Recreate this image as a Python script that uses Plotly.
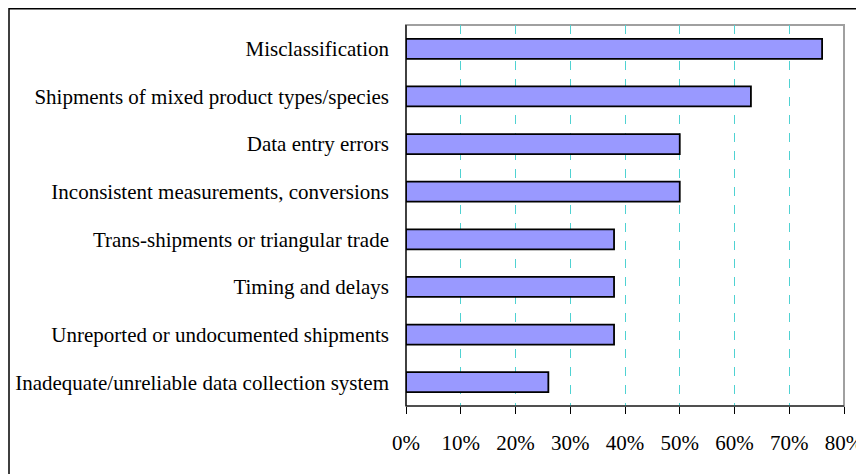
import plotly.graph_objects as go

categories = [
    "Misclassification",
    "Shipments of mixed product types/species",
    "Data entry errors",
    "Inconsistent measurements, conversions",
    "Trans-shipments or triangular trade",
    "Timing and delays",
    "Unreported or undocumented shipments",
    "Inadequate/unreliable data collection system",
]
values = [76, 63, 50, 50, 38, 38, 38, 26]
tick_vals = [0, 10, 20, 30, 40, 50, 60, 70, 80]
tick_text = ["0%", "10%", "20%", "30%", "40%", "50%", "60%", "70%", "80%"]

OFF = 8  # page body margin
W, H = 864, 474
L, R, T, B = 406 - OFF, 844 - OFF, 25 - OFF, 406 - OFF

fig = go.Figure(go.Bar(
    x=values, y=categories, orientation="h",
    marker=dict(color="#9999ff", line=dict(color="#000000", width=1.8)),
    hoverinfo="x+y",
))

pw, ph = R - L, B - T
def px(x): return (x - L) / pw
def py(y): return (B - y) / ph

fig.update_layout(
    width=W, height=H,
    margin=dict(l=L, r=W - R, t=T, b=H - B, autoexpand=False),
    paper_bgcolor="white", plot_bgcolor="white",
    font=dict(family="Liberation Serif", size=21, color="black"),
    bargap=0.58,
    showlegend=False,
    xaxis=dict(
        range=[0, 80], tickvals=tick_vals, ticktext=tick_text,
        showgrid=True, gridcolor="#4fd2d2", griddash="dash", gridwidth=1,
        showline=False, zeroline=False,
        ticks="outside", ticklen=7, tickcolor="black", tickwidth=1,
        ticklabelstandoff=11,
    ),
    yaxis=dict(
        autorange="reversed", showgrid=False, zeroline=False,
        showline=False, ticks="", ticklabelstandoff=16,
    ),
    shapes=[
        dict(type="rect", xref="paper", yref="paper", x0=0, x1=1, y0=0, y1=1,
             line=dict(color="#a0a0a0", width=2), layer="below"),
        dict(type="line", xref="paper", yref="paper", x0=0, x1=1, y0=0, y1=0,
             line=dict(color="black", width=1.2)),
        dict(type="line", xref="paper", yref="paper", x0=0, x1=0, y0=0, y1=1,
             line=dict(color="black", width=1.2)),
        dict(type="rect", xref="paper", yref="paper",
             x0=px(1), x1=px(W + 10), y0=py(H + 10), y1=py(0.8),
             line=dict(color="black", width=1.5)),
    ],
)

fig.write_html("out.html")
